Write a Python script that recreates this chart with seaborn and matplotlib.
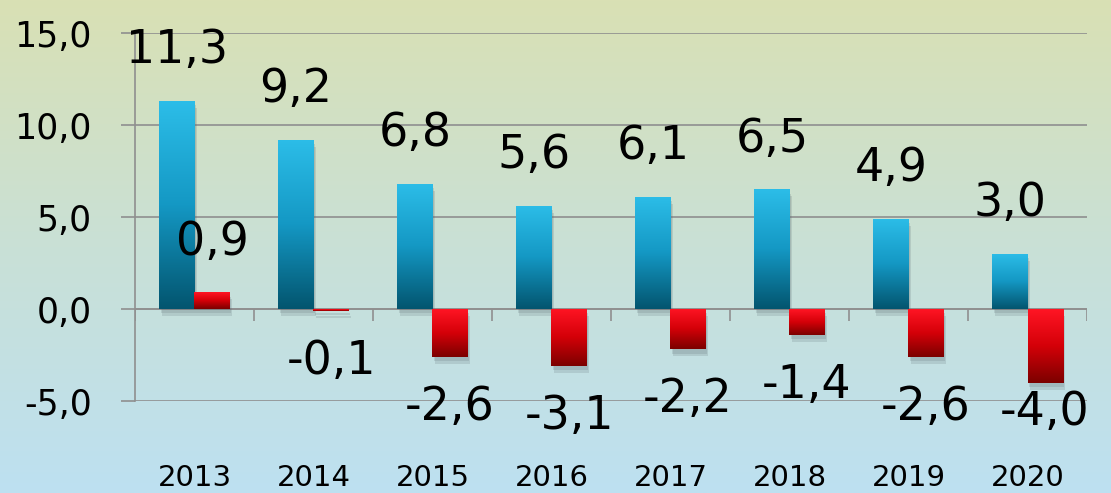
import numpy as np
import pandas as pd
import seaborn as sns
import matplotlib.pyplot as plt
from matplotlib import patheffects as pe
from matplotlib.colors import LinearSegmentedColormap

years = ["2013", "2014", "2015", "2016", "2017", "2018", "2019", "2020"]
blue_values = [11.3, 9.2, 6.8, 5.6, 6.1, 6.5, 4.9, 3.0]
red_values = [0.9, -0.1, -2.6, -3.1, -2.2, -1.4, -2.6, -4.0]
y_ticks = [-5, 0, 5, 10, 15]

df = pd.DataFrame({
    "year": years * 2,
    "series": ["a"] * len(years) + ["b"] * len(years),
    "value": blue_values + red_values,
})

sns.set_style("white")
plt.rcParams["font.family"] = ["DejaVu Sans"]

fig = plt.figure(figsize=(11.11, 4.93), dpi=100)

# background gradient
bg = fig.add_axes([0, 0, 1, 1], zorder=-5)
bg_cmap = LinearSegmentedColormap.from_list("bg", ["#d9e0b4", "#c9e1d6", "#bde0f1"])
bg.imshow(np.linspace(0, 1, 256).reshape(-1, 1), cmap=bg_cmap, aspect="auto",
          extent=[0, 1, 0, 1], origin="upper")
bg.axis("off")

ax = fig.add_axes([0.1215, 0.1866, 0.8569, 0.7464])
ax.patch.set_alpha(0)

sns.barplot(data=df, x="year", y="value", hue="series", order=years,
            palette=["#1b9cc8", "#d00010"], width=0.59, gap=0, legend=False,
            ax=ax, zorder=3)

grads = [
    LinearSegmentedColormap.from_list("blue", ["#2cbde8", "#1498c4", "#03556f"]),
    LinearSegmentedColormap.from_list("red", ["#ff1524", "#d40008", "#7c0000"]),
]
grad = np.linspace(0, 1, 128).reshape(-1, 1)
for cont, cmap in zip(ax.containers, grads):
    for bar in cont:
        x0, y0 = bar.get_x(), bar.get_y()
        w, h = bar.get_width(), bar.get_height()
        bot, top = min(y0, y0 + h), max(y0, y0 + h)
        bar.set_facecolor("none")
        bar.set_edgecolor("none")
        bar.set_path_effects([
            pe.SimplePatchShadow(offset=(2, -5), shadow_rgbFace="#5a6a70", alpha=0.18),
            pe.SimplePatchShadow(offset=(1, -3), shadow_rgbFace="#5a6a70", alpha=0.18),
            pe.Normal()])
        im = ax.imshow(grad, cmap=cmap, aspect="auto", extent=[x0, x0 + w, bot, top],
                       origin="upper", zorder=4)
        im.set_clip_path(bar)

ax.set_xlim(-0.5, len(years) - 0.5)
ax.set_ylim(-5, 15)

# value labels
for cont, vals in zip(ax.containers, [blue_values, red_values]):
    texts = ax.bar_label(cont, labels=[f"{v:.1f}".replace(".", ",") for v in vals],
                         padding=20, fontsize=33, color="black", zorder=6)
    # keep labels of the deepest bars from running into the year labels
    for t, v in zip(texts, vals):
        if v < -3.5:
            t.xyann = (t.xyann[0], t.xyann[1] + 15)

# grid and axes
ax.set_yticks(y_ticks)
ax.set_yticklabels([f"{v:.1f}".replace(".", ",") for v in y_ticks])
ax.grid(axis="y", color="#8f8f8f", linewidth=1.2, zorder=1)
ax.tick_params(axis="y", direction="out", length=10, width=1.2, color="#8f8f8f",
               pad=21, labelsize=25, left=True, labelcolor="black")
ax.tick_params(axis="x", length=0, pad=45, labelsize=21, labelcolor="black")
for s in ["top", "right", "bottom"]:
    ax.spines[s].set_visible(False)
ax.spines["left"].set_color("#8f8f8f")
ax.spines["left"].set_linewidth(1.2)
ax.axhline(0, color="#8f8f8f", linewidth=1.2, zorder=2)
ax.vlines(np.arange(len(years) + 1) - 0.5, -0.65, 0, color="#8f8f8f", linewidth=1.2, zorder=2)
ax.set_xlabel("")
ax.set_ylabel("")

fig.savefig("out.png", dpi=100)
